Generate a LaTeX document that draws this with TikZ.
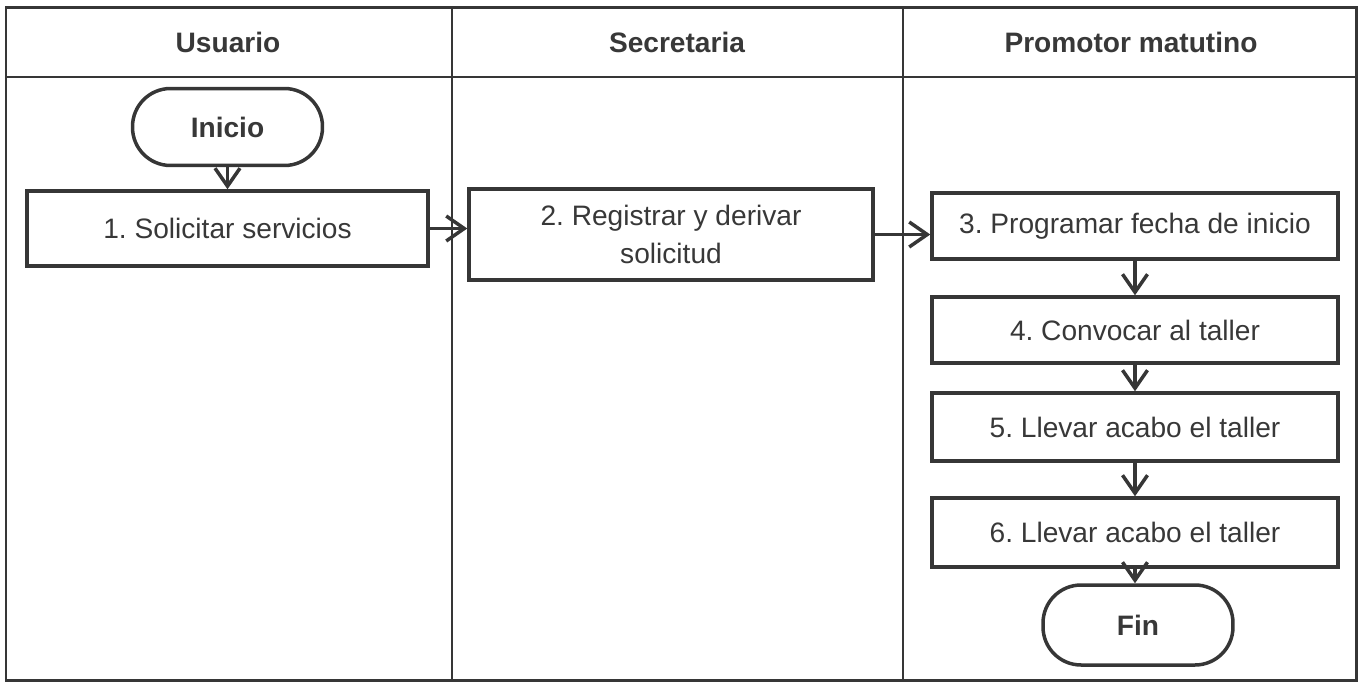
\documentclass[tikz,border=0pt]{standalone}
\usepackage{fontspec}
\setmainfont{Liberation Sans}
\usepackage{xcolor}
\usetikzlibrary{arrows.meta,positioning}
\definecolor{linegray}{HTML}{363636}
\definecolor{textgray}{HTML}{383838}
\frenchspacing
\tikzset{
  proc/.style={ % image of a process step
    draw=linegray, line width=0.07cm, rectangle,
    minimum width=8.06cm, minimum height=1.32cm,
    inner sep=2pt, text=textgray, align=center,
    font=\fontsize{16}{21.5}\selectfont
  },
  term/.style={ % image of a start / end terminator
    draw=linegray, line width=0.07cm, rectangle,
    rounded corners=0.76cm, minimum width=3.8cm, minimum height=1.54cm,
    text=textgray, font=\fontsize{16}{19}\selectfont\bfseries
  },
  lane/.style={ % swimlane title
    text=textgray, font=\fontsize{16}{19}\selectfont\bfseries
  },
  flow/.style={
    draw=linegray, line width=0.07cm,
    -{Straight Barb[length=0.36cm,width=0.5cm]}
  }
}
\begin{document}
\begin{tikzpicture}[x=0.02cm, y=-0.02cm]
  \useasboundingbox (0,0) rectangle (1359,683);
  % lanes
  \draw[linegray, line width=0.06cm] (6,7) rectangle (1356,680);
  \draw[linegray, line width=0.04cm] (6,77) -- (1356,77);
  \draw[linegray, line width=0.03cm] (452,7) -- (452,680);
  \draw[linegray, line width=0.03cm] (903,7) -- (903,680);
  \node[lane] (usr) at (228,42) {Usuario};
  \node[lane] (sec) at (677,42) {Secretaria};
  \node[lane] (prm) at (1131,42) {Promotor matutino};

  \node[term] (ini) at (227.5,127) {Inicio};
  \node[proc, minimum width=8.02cm, minimum height=1.5cm] (s1) at (227.5,228.5) {1. Solicitar servicios};
  \node[proc, minimum width=8.08cm, minimum height=1.82cm] (s2) at (671,234.5) {2. Registrar y derivar\\solicitud};
  \node[proc, minimum width=8.12cm] (s3) at (1135,226) {3. Programar fecha de inicio};
  \node[proc, minimum width=8.12cm] (s4) at (1135,330) {4. Convocar al taller};
  \node[proc, minimum width=8.12cm, minimum height=1.36cm] (s5) at (1135,427) {5. Llevar acabo el taller};
  \node[proc, minimum width=8.12cm, minimum height=1.38cm] (s6) at (1135,532.5) {6. Llevar acabo el taller};
  \node[term, minimum height=1.6cm] (fin) at (1138,625) {Fin};

  \draw[flow] (ini) -- (s1);
  \draw[flow] (s1.east) -- (s1.east -| s2.west);
  \draw[flow] (s2.east) -- (s2.east -| s3.west);
  \draw[flow] (s3) -- (s4);
  \draw[flow] (s4) -- (s5);
  \draw[flow] (s5) -- (s6);
  \draw[flow] (s6.south) -- (s6.south |- fin.north);
\end{tikzpicture}
\end{document}
